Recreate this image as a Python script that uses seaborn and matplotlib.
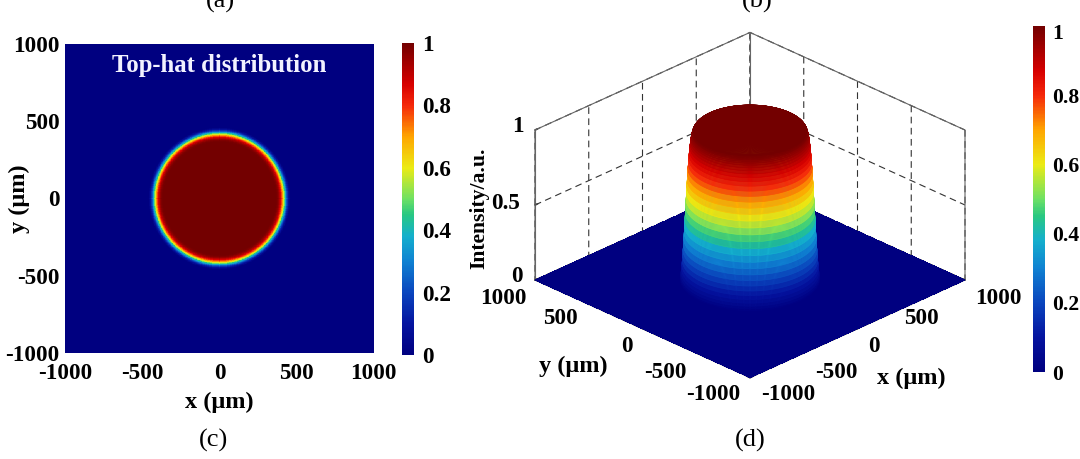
import matplotlib
matplotlib.use("Agg")
import matplotlib.pyplot as plt
import numpy as np
import pandas as pd
import seaborn as sns
from matplotlib.cm import ScalarMappable
from matplotlib.colors import LinearSegmentedColormap, Normalize
from matplotlib.transforms import ScaledTranslation
from mpl_toolkits.mplot3d import proj3d

W, H = 1080, 459

# radial intensity profile
radius_um = [360, 362.5, 365, 367.5, 370, 372.5, 375, 377.5, 380, 382.5, 385, 387.5, 390, 392.5,
             395, 397.5, 400, 402.5, 405, 407.5, 410, 412.5, 415, 417.5, 420, 422.5, 425, 427.5,
             430, 432.5, 435, 437.5, 440, 442.5, 445, 447.5, 450, 452.5, 455, 457.5, 460, 462.5]
intensity = [1.0, 1.0, 0.999, 0.998, 0.996, 0.993, 0.989, 0.984, 0.977, 0.968, 0.957, 0.944,
             0.928, 0.91, 0.889, 0.866, 0.84, 0.811, 0.779, 0.745, 0.708, 0.669, 0.628, 0.585,
             0.54, 0.495, 0.45, 0.405, 0.36, 0.317, 0.275, 0.235, 0.198, 0.163, 0.131, 0.102,
             0.076, 0.053, 0.034, 0.018, 0.007, 0.0]
map_axis_um = np.arange(-1000, 1000.1, 2.5)
xy_ticks = [-1000, -500, 0, 500, 1000]
xy_labels = ["-1000", "-500", "0", "500", "1000"]
z_ticks = [0, 0.5, 1]
cbar_ticks = [0, 0.2, 0.4, 0.6, 0.8, 1]
cbar_labels = ["0", "0.2", "0.4", "0.6", "0.8", "1"]

# colours sampled from the reference colour bar
cmap_stops = [0, 0.1, 0.2, 0.3, 0.38, 0.45, 0.5, 0.6, 0.7, 0.8, 0.87, 1]
cmap_rgb = [(0, 0, 128), (5, 20, 160), (10, 70, 190), (15, 130, 210), (20, 175, 205), (40, 200, 130),
            (110, 225, 100), (235, 235, 20), (255, 165, 0), (245, 40, 10), (215, 0, 0), (115, 0, 0)]
top_hat = LinearSegmentedColormap.from_list(
    "top_hat", [(s, tuple(c / 255 for c in rgb)) for s, rgb in zip(cmap_stops, cmap_rgb)], N=256)

sns.set_theme(style="white")
plt.rcParams["font.family"] = ["Liberation Serif", "DejaVu Serif"]
plt.rcParams["font.weight"] = "bold"
plt.rcParams.update({"text.color": "black", "axes.labelcolor": "black",
                     "xtick.color": "black", "ytick.color": "black"})
FS = 16.7
LABEL_FS = 17.5


def rect(x0, y0, x1, y1):
    return [x0 / W, 1 - y1 / H, (x1 - x0) / W, (y1 - y0) / H]


def ptext(x, y, s, **kw):
    kw.setdefault("ha", "center")
    kw.setdefault("va", "center")
    kw.setdefault("fontsize", FS)
    return fig.text(x / W, 1 - y / H, s, **kw)


xx, yy = np.meshgrid(map_axis_um, map_axis_um)
zz = np.array(intensity + [0.0])[np.searchsorted(radius_um, np.hypot(xx, yy))]

fig = plt.figure(figsize=(W / 100, H / 100), dpi=100)

# (c) top view
ax = fig.add_axes(rect(65, 44, 374, 353))
cax = fig.add_axes(rect(402, 43, 414, 355))
map_df = pd.DataFrame(zz[::-1], index=map_axis_um[::-1], columns=map_axis_um)
sns.heatmap(map_df, ax=ax, cbar_ax=cax, cmap=top_hat, vmin=0, vmax=1,
            xticklabels=False, yticklabels=False, rasterized=True)
pos = [(t + 1000) / 2.5 + 0.5 for t in xy_ticks]
ax.set_xticks(pos, xy_labels, rotation=0, fontsize=FS, fontweight="bold")
ax.set_yticks(pos[::-1], xy_labels, rotation=0, fontsize=FS, fontweight="bold")
ax.tick_params(axis="x", length=0, pad=7)
ax.tick_params(axis="y", length=0, pad=4)
ax.set_xlabel("x (μm)", fontsize=LABEL_FS, fontweight="bold", va="center")
ax.set_ylabel("y (μm)", fontsize=LABEL_FS, fontweight="bold", va="center")
ax.xaxis.set_label_coords(0.5, -0.159)
ax.yaxis.set_label_coords(-0.149, 0.5)
ax.text(0.5, 0.932, "Top-hat distribution", transform=ax.transAxes, color="#f2f2ff",
        ha="center", va="center", fontsize=17.8, fontweight="bold")
cax.set_yticks(cbar_ticks, cbar_labels, fontsize=FS, fontweight="bold")
cax.tick_params(length=0, pad=6)

# (d) surface: flat floor plus the hat on rings at the profile radii
ax3 = fig.add_axes([0.4, 0.0, 0.5, 0.5], projection="3d", proj_type="ortho",
                   computed_zorder=False)
ax3.set_facecolor("none")
ax3.view_init(elev=27, azim=-135)
ax3.set_box_aspect((1, 1, 0.5536))
ring_r = np.array([0.0] + radius_um)
ring_z = np.array([1.0] + intensity)
theta = np.deg2rad(np.arange(0, 360.5, 1.0))
tt, rr = np.meshgrid(theta, ring_r)
ring_zz = np.tile(ring_z[:, None], (1, theta.size))

fx, fy = np.meshgrid(xy_ticks, xy_ticks)
ax3.plot_surface(fx, fy, np.zeros_like(fx, dtype=float), cmap=top_hat, vmin=0, vmax=1,
                 linewidth=0, antialiased=False, shade=False, zorder=2)
hat = ax3.plot_surface(rr * np.cos(tt), rr * np.sin(tt), ring_zz, cmap=top_hat, vmin=0, vmax=1,
                       rstride=1, cstride=1, linewidth=0.4, antialiased=True,
                       shade=False, zorder=3)
hat.set_edgecolor("face")
# solid frame of the two back walls
frame_x = [-1000, -1000, 1000, 1000, 1000]
frame_y = [1000, 1000, 1000, -1000, -1000]
frame_z = [0, 1, 1, 1, 0]
ax3.plot(frame_x, frame_y, frame_z, color="#666666", linewidth=0.8, zorder=1)
ax3.plot([1000, 1000], [1000, 1000], [0, 1], color="#666666", linewidth=0.8, zorder=1)

ax3.set_xlim(-1000, 1000, view_margin=0)
ax3.set_ylim(-1000, 1000, view_margin=0)
ax3.set_zlim(0, 1, view_margin=0)
ax3.set_xticks(xy_ticks, [""] * 5)
ax3.set_yticks(xy_ticks, [""] * 5)
ax3.set_zticks(z_ticks, [""] * 3)
for axis in (ax3.xaxis, ax3.yaxis, ax3.zaxis):
    axis.set_pane_color((1, 1, 1, 0))
    axis.pane.set_edgecolor("none")
    axis.line.set_color("#666666")
    axis.line.set_linewidth(0.8)
    axis.set_tick_params(bottom=True, left=True, color="#444444", width=0.8)
    axis._axinfo["grid"].update(color="#333333", linewidth=0.8, linestyle=(0, (6, 4)))
    axis._axinfo["tick"].update(inward_factor=0, outward_factor=0.15)

# scale the 3D box onto the target floor corners
fig.canvas.draw()
side = 600.0
cx, cy = 750.0, 280.0
for _ in range(3):
    ax3.set_position(rect(cx - side / 2, cy - side / 2, cx + side / 2, cy + side / 2))
    fig.canvas.draw()
    M = ax3.get_proj()
    p = [ax3.transData.transform(proj3d.proj_transform(a, b, 0, M)[:2])
         for a, b in ((-1000, 1000), (1000, -1000))]
    side *= 430.0 / abs(p[1][0] - p[0][0])
    mid = (p[0] + p[1]) / 2
    cx += 750.0 - mid[0]
    cy += mid[1] - (H - 280.0)

cax3 = fig.add_axes(rect(1033, 26, 1045, 372))
cb = fig.colorbar(ScalarMappable(Normalize(0, 1), top_hat), cax=cax3)
cb.outline.set_visible(False)
cb.set_ticks(cbar_ticks, labels=cbar_labels)
cax3.tick_params(length=0, pad=5, labelsize=15.6)
fig.canvas.draw()
top_label = cax3.get_yticklabels()[-1]
top_label.set_transform(top_label.get_transform() + ScaledTranslation(0, -4 / 72, fig.dpi_scale_trans))

# 3D tick labels, each placed where the reference has it
for (x, y), s in zip([(788, 395), (836, 372), (874, 346), (921, 318), (998, 298)], xy_labels):
    ptext(x, y, s)
for (x, y), s in zip([(713, 395), (665, 372), (627, 346), (560, 318), (503, 299)], xy_labels):
    ptext(x, y, s)
for (x, y), s in zip([(517, 276), (506, 203), (518, 127)], ["0", "0.5", "1"]):
    ptext(x, y, s)
ptext(911, 378, "x (μm)", fontsize=LABEL_FS)
ptext(573, 366, "y (μm)", fontsize=LABEL_FS)
ptext(479, 208, "Intensity/a.u.", rotation=90, fontsize=15.6)

for x, y, s in [(220, 1, "(a)"), (757, 1, "(b)"), (214, 440, "(c)"), (750, 440, "(d)")]:
    ptext(x, y, s, fontsize=19, fontweight="normal")

fig.savefig("out.png", dpi=100)
plt.close(fig)
